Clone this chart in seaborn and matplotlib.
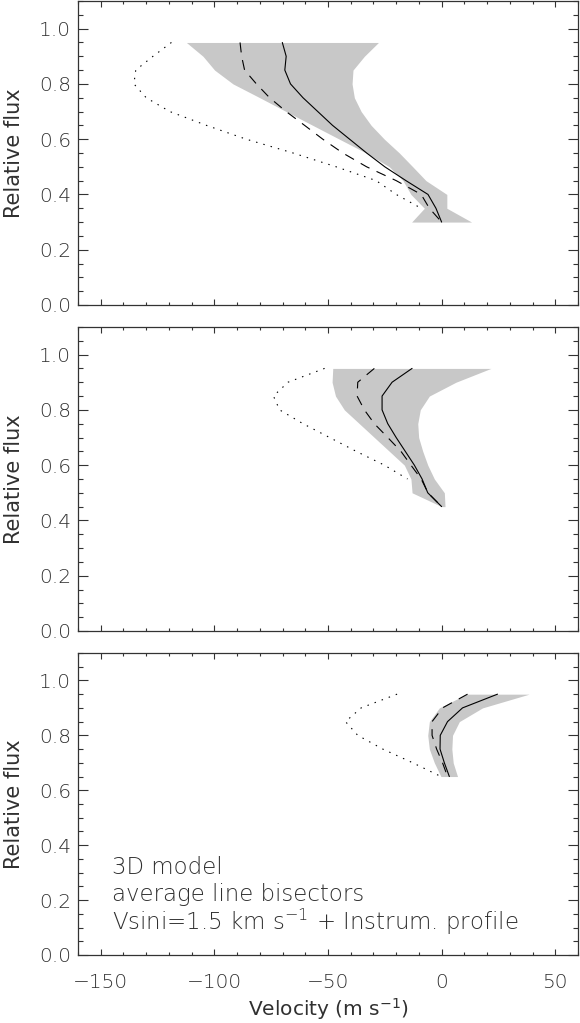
import numpy as np
import matplotlib
matplotlib.use("Agg")
import matplotlib.pyplot as plt
from matplotlib.ticker import MultipleLocator
import seaborn as sns
import pandas as pd

sns.set_theme(style="ticks")
plt.rcParams['font.family'] = ['DejaVu Sans']
plt.rcParams['font.weight'] = 200
plt.rcParams['mathtext.fontset'] = 'dejavusans'
plt.rcParams['mathtext.default'] = 'regular'

# ---------------- data ----------------
# Panel 1
flux1 = [0.95, 0.90, 0.85, 0.80, 0.75, 0.70, 0.65, 0.60, 0.55, 0.50, 0.45, 0.40, 0.35, 0.30]
solid1 = [-70.1, -68.4, -69.0, -66.5, -61.0, -54.5, -48.0, -40.5, -33.0, -25.0, -15.7, -6.0, -2.5, 0.0]
dashed1 = [-88.7, -88.0, -86.7, -81.5, -75.7, -68.4, -60.3, -52.3, -43.5, -33.0, -20.0, -9.0, -5.4, 0.0]
dotflux1 = [0.95, 0.90, 0.85, 0.80, 0.75, 0.70, 0.65, 0.60, 0.55, 0.50, 0.45, 0.40, 0.35]
dotted1 = [-118.9, -127.0, -134.6, -135.4, -130.0, -119.6, -103.5, -86.0, -65.4, -46.4, -28.8, -20.0, -9.0]
bandflux1 = [0.95, 0.90, 0.85, 0.80, 0.75, 0.70, 0.65, 0.60, 0.55, 0.50, 0.45, 0.40, 0.35, 0.30]
bandlo1 = [-112.3, -105.0, -99.9, -91.8, -80.0, -68.4, -56.7, -45.0, -33.2, -23.0, -17.0, -13.5, -7.6, -13.2]
bandhi1 = [-27.8, -34.0, -39.0, -39.4, -38.4, -35.4, -31.0, -25.2, -18.6, -12.7, -6.9, 2.3, 2.3, 13.2]

# Panel 2
flux2 = [0.95, 0.90, 0.85, 0.80, 0.75, 0.70, 0.65, 0.60, 0.55, 0.50, 0.45]
solid2 = [-13.0, -21.8, -26.2, -26.2, -23.7, -20.0, -16.0, -12.0, -8.6, -6.1, 0.0]
dashed2 = [-29.6, -36.9, -37.2, -34.0, -29.6, -23.7, -17.9, -13.5, -9.0, -6.0, 0.0]
dotflux2 = [0.95, 0.90, 0.85, 0.80, 0.75, 0.70, 0.65, 0.60, 0.55]
dotted2 = [-51.5, -67.6, -74.0, -71.3, -61.0, -49.3, -37.6, -25.2, -15.0]
bandlo2 = [-47.9, -48.2, -46.7, -42.8, -36.2, -29.6, -23.0, -16.4, -13.5, -13.0, 0.0]
bandhi2 = [21.7, 6.3, -5.4, -9.4, -10.5, -10.1, -8.3, -6.1, -3.2, 1.2, 1.5]

# Panel 3
flux3 = [0.95, 0.90, 0.85, 0.80, 0.75, 0.70, 0.65]
solid3 = [24.6, 9.2, 2.6, -0.6, -0.7, 1.2, 3.4]
dashed3 = [11.4, 0.4, -4.2, -4.2, -2.2, 0.4, 2.6]
dotted3 = [-19.6, -35.4, -42.3, -36.9, -25.9, -12.7, -0.3]
bandlo3 = [11.0, -1.0, -5.4, -6.1, -5.4, -3.2, -0.3]
bandhi3 = [38.5, 18.0, 7.8, 4.8, 4.5, 5.1, 7.0]

xticks = [-150, -100, -50, 0, 50]
yticks = [0.0, 0.2, 0.4, 0.6, 0.8, 1.0]
note_lines = ["3D model", "average line bisectors",
              r"Vsini=1.5 km s$^{-1}$ + Instrum. profile"]

panels = [
    dict(flux=flux1, solid=solid1, dashed=dashed1, dflux=dotflux1, dotted=dotted1,
         bflux=bandflux1, lo=bandlo1, hi=bandhi1),
    dict(flux=flux2, solid=solid2, dashed=dashed2, dflux=dotflux2, dotted=dotted2,
         bflux=flux2, lo=bandlo2, hi=bandhi2),
    dict(flux=flux3, solid=solid3, dashed=dashed3, dflux=flux3, dotted=dotted3,
         bflux=flux3, lo=bandlo3, hi=bandhi3),
]

TXT = '#303030'
FS = 14.5
fig = plt.figure(figsize=(5.8, 10.23), dpi=100)
fig.patch.set_facecolor('white')
left, width = 0.1345, 0.862
bottoms = [0.7019, 0.3832, 0.0665]
heights = [0.2971, 0.2972, 0.2952]

for i, p in enumerate(panels):
    ax = fig.add_axes([left, bottoms[i], width, heights[i]])
    ax.set_facecolor('white')
    ax.fill_betweenx(p['bflux'], p['lo'], p['hi'], color='#c8c8c8', lw=0, zorder=1)
    df_s = pd.DataFrame({'v': p['solid'], 'f': p['flux']})
    df_d = pd.DataFrame({'v': p['dashed'], 'f': p['flux']})
    df_o = pd.DataFrame({'v': p['dotted'], 'f': p['dflux']})
    sns.lineplot(data=df_s, x='v', y='f', orient='y', estimator=None, sort=False,
                 color='black', lw=0.8, ax=ax, zorder=3)
    sns.lineplot(data=df_d, x='v', y='f', orient='y', estimator=None, sort=False,
                 color='black', lw=0.8, ax=ax, zorder=3)
    ax.lines[-1].set_dashes([9, 7])
    sns.lineplot(data=df_o, x='v', y='f', orient='y', estimator=None, sort=False,
                 color='black', lw=0.8, ax=ax, zorder=3)
    ax.lines[-1].set_dashes([1.3, 5.5])

    ax.set_xlim(-160, 60)
    ax.set_ylim(0, 1.1)
    ax.set_xticks(xticks)
    ax.set_yticks(yticks)
    ax.xaxis.set_minor_locator(MultipleLocator(10))
    ax.yaxis.set_minor_locator(MultipleLocator(0.05))
    ax.tick_params(which='both', direction='in', top=True, right=True,
                   color='#333333', width=0.8, labelsize=FS, labelcolor=TXT)
    ax.tick_params(axis='x', which='major', length=4.3)
    ax.tick_params(axis='x', which='minor', length=2.2)
    ax.tick_params(axis='y', which='major', length=7.2)
    ax.tick_params(axis='y', which='minor', length=3.6)
    ax.tick_params(axis='y', pad=5)
    ax.tick_params(axis='x', pad=13)
    ax.set_yticklabels([f"{t:.1f}" for t in yticks])
    for s in ax.spines.values():
        s.set_color('#333333')
        s.set_linewidth(0.9)
    ax.set_ylabel('Relative flux', fontsize=FS + 0.5, color=TXT, labelpad=11)
    if i < 2:
        ax.set_xticklabels([])
        ax.set_xlabel('')
    else:
        ax.set_xticklabels([f"{t}".replace('-', '\u2212') for t in xticks])
        ax.set_xlabel(r'Velocity (m s$^{-1}$)', fontsize=FS, color=TXT, labelpad=3)
        for k, line in enumerate(note_lines):
            ax.text(-145, 0.32 - k * 0.1, line, fontsize=16.5, color=TXT,
                    va='center', ha='left')

fig.savefig('out.png', dpi=100, facecolor='white')
